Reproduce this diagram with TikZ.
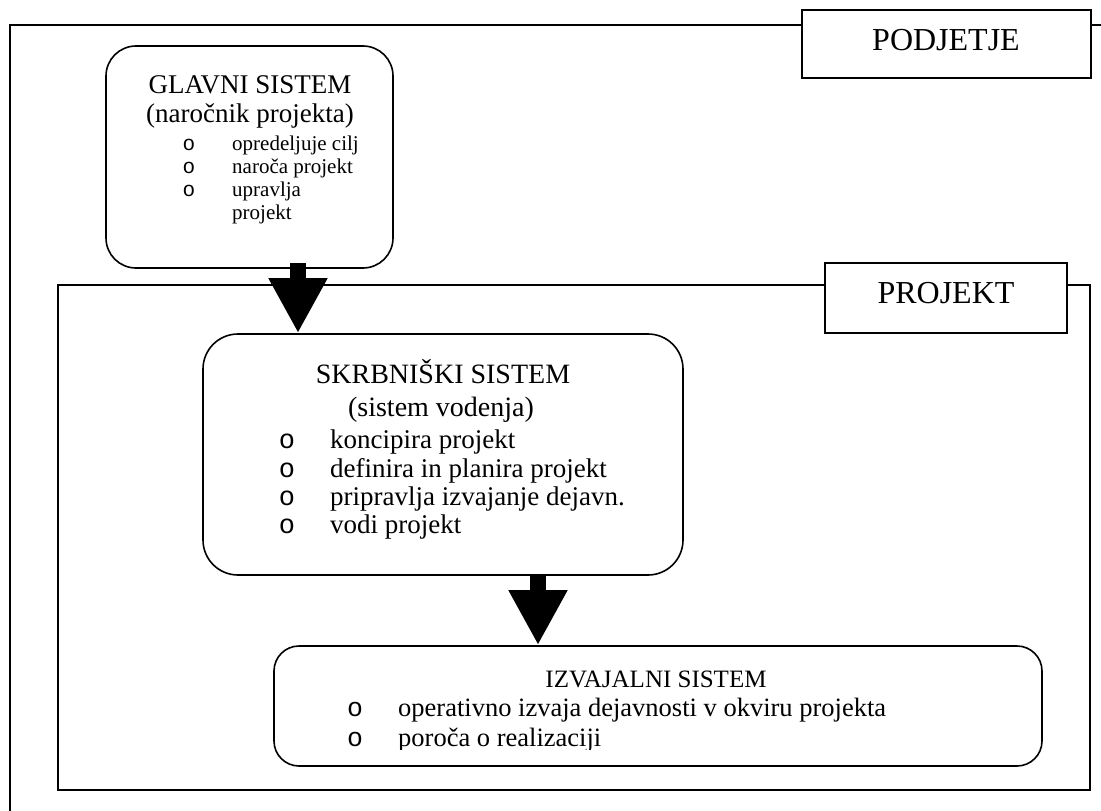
\documentclass[tikz,border=0pt]{standalone}
\usepackage{fontspec}
\setmainfont{Liberation Serif}
\newfontfamily\bulletfont{Liberation Mono}
\usetikzlibrary{arrows.meta}

\tikzset{
  frameline/.style={line width=1.6pt},
  tagbox/.style={draw, line width=1.6pt, fill=white, inner sep=0pt},
  sysbox/.style={draw, line width=1.6pt, fill=white, inner sep=0pt},
  bigarrow/.style={line width=16pt, -{Triangle[length=55pt,width=55pt]}},
  title/.style={inner sep=0pt, anchor=base},
  itemtext/.style={inner sep=0pt, anchor=base west},
  bulletmark/.style={inner sep=0pt, anchor=base, font=\bulletfont\fontsize{#1}{#1}\selectfont},
  fs/.style={font=\fontsize{#1}{#1}\selectfont}
}

\begin{document}
\begin{tikzpicture}[x=1pt, y=-1pt]
  \useasboundingbox (0,0) rectangle (1101,811);
  \clip (0,0) rectangle (1101,811);

  % company frame with its tag
  \draw[frameline] (10,850) -- (10,25) -- (1130,25);
  \node[tagbox, minimum width=289pt, minimum height=68pt] (podjetje) at (946.5,44) {};
  \node[title, fs=32] (podjetjeText) at (946,50) {PODJETJE};

  % project frame with its tag
  \draw[frameline] (58,285) rectangle (1090,790);
  \node[tagbox, minimum width=242pt, minimum height=70pt] (projekt) at (946,298) {};
  \node[title, fs=32] (projektText) at (946,303) {PROJEKT};

  % main system
  \node[sysbox, rounded corners=30pt, minimum width=287pt, minimum height=222pt] (glavni) at (249.5,157) {};
  \node[title, fs=27] (g1) at (250,93) {GLAVNI SISTEM};
  \node[title, fs=27] (g2) at (250,122) {(naročnik projekta)};
  \node[bulletmark=21] (gb1) at (189,150) {o};
  \node[bulletmark=21] (gb2) at (189,173) {o};
  \node[bulletmark=21] (gb3) at (189,196) {o};
  \node[itemtext, fs=21] (gt1) at (232,150) {opredeljuje cilj};
  \node[itemtext, fs=21] (gt2) at (232,173) {naroča projekt};
  \node[itemtext, fs=21] (gt3) at (232,196) {upravlja};
  \node[itemtext, fs=21] (gt4) at (232,219) {projekt};

  % steering system
  \node[sysbox, rounded corners=35pt, minimum width=480pt, minimum height=241pt] (skrb) at (443,454.5) {};
  \node[title, fs=28] (s1) at (443,383) {SKRBNIŠKI SISTEM};
  \node[title, fs=28] (s2) at (441,416) {(sistem vodenja)};
  \node[bulletmark=27] (sb1) at (287,448) {o};
  \node[bulletmark=27] (sb2) at (287,477) {o};
  \node[bulletmark=27] (sb3) at (287,505) {o};
  \node[bulletmark=27] (sb4) at (287,533) {o};
  \node[itemtext, fs=27] (st1) at (330,448) {koncipira projekt};
  \node[itemtext, fs=27] (st2) at (330,477) {definira in planira projekt};
  \node[itemtext, fs=27] (st3) at (330,505) {pripravlja izvajanje dejavn.};
  \node[itemtext, fs=27] (st4) at (330,533) {vodi projekt};

  % executing system
  \node[sysbox, rounded corners=25pt, minimum width=768pt, minimum height=120pt] (izv) at (658,706) {};
  \node[title, fs=25] (i1) at (656,687) {IZVAJALNI SISTEM};
  \node[bulletmark=26.5] (ib1) at (355,716) {o};
  \node[bulletmark=26.5] (ib2) at (355,746) {o};
  \node[itemtext, fs=26.5] (it1) at (398,716) {operativno izvaja dejavnosti v okviru projekta};
  \begin{scope}
    \clip (274,600) rectangle (1042,749.5);
    \node[itemtext, fs=26.5] (it2) at (398,746) {poroča o realizaciji};
  \end{scope}

  % block arrows between the systems
  \coordinate (a1) at ([xshift=48.5pt, yshift=6pt]glavni.south);
  \draw[bigarrow] (a1) -- (a1 |- skrb.north);
  \coordinate (a2) at ([xshift=95pt]skrb.south);
  \draw[bigarrow] (a2) -- (a2 |- izv.north);
\end{tikzpicture}
\end{document}
